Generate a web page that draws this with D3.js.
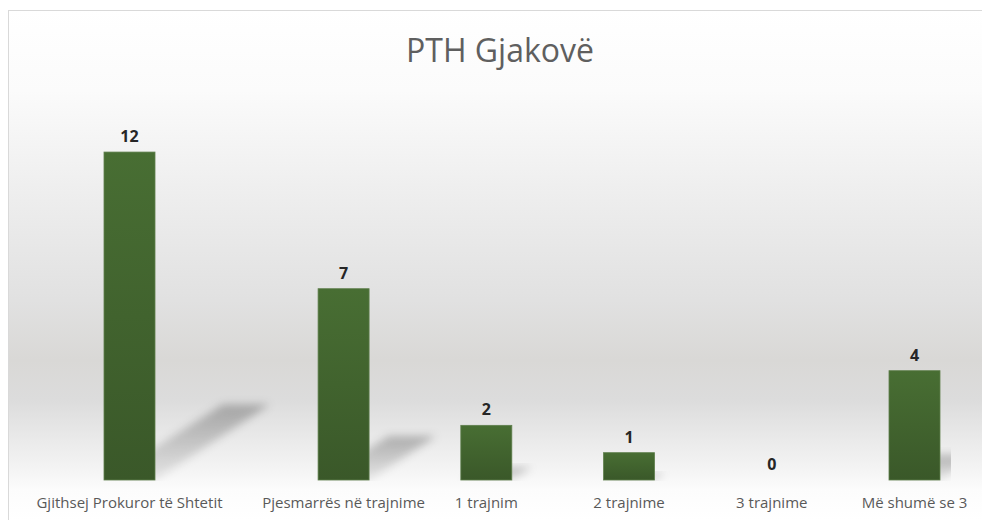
<!DOCTYPE html>
<html>
<head>
<meta charset="utf-8">
<script src="https://cdn.jsdelivr.net/npm/d3@7/dist/d3.min.js"></script>
<style>
  html, body { margin: 0; padding: 0; background: #ffffff; }
  svg { display: block; }
</style>
</head>
<body>
<svg id="chart" width="982" height="520"></svg>
<script>
const title = "PTH Gjakovë";
const categories = [
  "Gjithsej Prokuror të Shtetit",
  "Pjesmarrës në trajnime",
  "1 trajnim",
  "2 trajnime",
  "3 trajnime",
  "Më shumë se 3"
];
const values = [12, 7, 2, 1, 0, 4];
const data = categories.map((c, i) => ({ category: c, value: values[i], index: i }));

const svg = d3.select("#chart");
const defs = svg.append("defs");

// background gradient
const bg = defs.append("linearGradient").attr("id", "bgGrad")
  .attr("gradientUnits", "userSpaceOnUse")
  .attr("x1", 0).attr("y1", 10).attr("x2", 0).attr("y2", 520);
[[10, "#ffffff"], [90, "#fbfbfb"], [200, "#ededed"], [300, "#e1e1e1"], [360, "#d9d8d6"],
 [400, "#dcdcdc"], [440, "#eaeaea"], [470, "#f4f4f4"], [490, "#fcfcfc"], [520, "#ffffff"]]
  .forEach(([yy, c]) => bg.append("stop").attr("offset", (yy - 10) / 510).attr("stop-color", c));

// bar gradient
const bgr = defs.append("linearGradient").attr("id", "barGrad")
  .attr("x1", 0).attr("y1", 0).attr("x2", 0).attr("y2", 1);
bgr.append("stop").attr("offset", 0).attr("stop-color", "#486e33");
bgr.append("stop").attr("offset", 1).attr("stop-color", "#3a5829");

// shadow gradient
const sg = defs.append("linearGradient").attr("id", "shGrad")
  .attr("x1", 0).attr("y1", 1).attr("x2", 0).attr("y2", 0);
sg.append("stop").attr("offset", 0).attr("stop-color", "#000").attr("stop-opacity", 0.07);
sg.append("stop").attr("offset", 1).attr("stop-color", "#000").attr("stop-opacity", 0.26);

defs.append("filter").attr("id", "blur").attr("x", "-30%").attr("y", "-30%")
  .attr("width", "160%").attr("height", "160%")
  .append("feGaussianBlur").attr("stdDeviation", 4);

defs.append("clipPath").attr("id", "plotClip")
  .append("rect").attr("x", 8).attr("y", 0).attr("width", 943).attr("height", 481);

// chart area
svg.append("rect")
  .attr("x", 8.5).attr("y", 10.5).attr("width", 1000).attr("height", 540)
  .attr("fill", "url(#bgGrad)")
  .attr("stroke", "#d9d9d9").attr("stroke-width", 1);

// scales: the total column is set apart from the breakdown by an extra half step
const slot = d => d.index === 0 ? 0 : d.index + 0.5;
const x = d3.scaleLinear().domain([0, 5.5]).range([129.5, 914.5]);
const barW = 51;
const y = d3.scaleLinear().domain([0, 14]).range([480, 97.4]);

// shadows
const shadowG = svg.append("g").attr("clip-path", "url(#plotClip)");
shadowG.selectAll("path").data(data.filter(d => d.value > 0)).join("path")
  .attr("d", d => {
    const x0 = x(slot(d)) - barW / 2, x1 = x(slot(d)) + barW / 2;
    const h = y(0) - y(d.value);
    const dx = 0.35 * h, dy = -0.23 * h;
    const b = y(0);
    return `M${x0},${b} L${x1},${b} L${x1 + dx},${b + dy} L${x0 + dx + 4},${b + dy} Z`;
  })
  .attr("fill", "url(#shGrad)")
  .attr("filter", "url(#blur)");

// bars
svg.append("g").selectAll("rect").data(data).join("rect")
  .attr("x", d => x(slot(d)) - barW / 2)
  .attr("y", d => y(d.value))
  .attr("width", barW)
  .attr("height", d => y(0) - y(d.value))
  .attr("fill", "url(#barGrad)")
  .attr("stroke", d => d.value > 0 ? "#5f7f4d" : "none")
  .attr("stroke-width", 0.8);

// value labels
svg.append("g").selectAll("text").data(data).join("text")
  .attr("x", d => x(slot(d)))
  .attr("y", d => y(d.value) - 10)
  .attr("text-anchor", "middle")
  .attr("font-family", "'Open Sans', sans-serif")
  .attr("font-weight", "bold")
  .attr("font-size", 16)
  .attr("fill", "#262626")
  .text(d => d.value);

// category labels
const axG = svg.append("g").attr("transform", `translate(0,${y(0)})`);
axG.selectAll("text").data(data).join("text")
  .attr("x", d => x(slot(d)))
  .attr("y", 28)
  .attr("text-anchor", "middle")
  .attr("font-family", "'Open Sans', sans-serif")
  .attr("font-size", 15)
  .attr("fill", "#595959")
  .text(d => d.category);

// title
svg.append("text")
  .attr("x", 500).attr("y", 62)
  .attr("text-anchor", "middle")
  .attr("font-family", "'Open Sans', sans-serif")
  .attr("font-size", 32)
  .attr("fill", "#5f5f5f")
  .text(title);
</script>
</body>
</html>
